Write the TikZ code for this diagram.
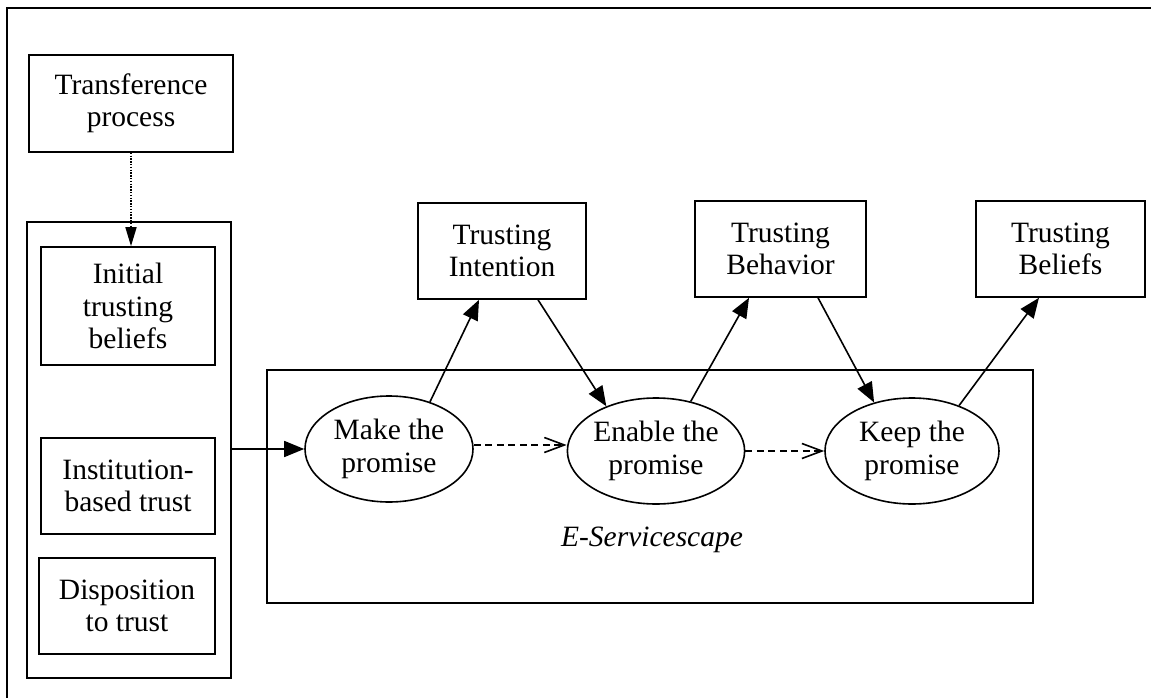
\documentclass[tikz,border=0pt]{standalone}
\usepackage{fontspec}
\setmainfont{Liberation Serif}
\usetikzlibrary{arrows.meta,shapes.geometric}
\begin{document}
\begin{tikzpicture}[x=1pt,y=-1pt,
  txt/.style={font=\fontsize{29.5}{32.5}\selectfont, align=center, inner sep=0pt},
  box/.style={txt, draw, line width=1.6pt, rectangle},
  oval/.style={txt, draw, line width=1.6pt, ellipse, minimum height=106pt},
  solidarrow/.style={line width=1.6pt, -{Triangle[length=20pt,width=16pt]}},
  dasharrow/.style={line width=1.6pt, dash pattern=on 7pt off 4.5pt, -{Straight Barb[length=20pt,width=15pt,line width=1.6pt]}},
  dotarrow/.style={line width=1.6pt, dash pattern=on 1.3pt off 1.5pt, -{Triangle[length=19pt,width=11pt]}}
]
\useasboundingbox (0,0) rectangle (1151,698);
\fill[white] (0,0) rectangle (1151,698);
\draw[line width=1.8pt] (1151,8) -- (7,8) -- (7,698);

\node[box, minimum width=204pt, minimum height=97pt] (trans) at (131,103.5) {Transference\\process};
\node[draw, line width=2.6pt, minimum width=204pt, minimum height=456pt, inner sep=0pt] (group) at (129,450) {};
\node[box, minimum width=174pt, minimum height=118pt] (init) at (128,306) {Initial\\trusting\\beliefs};
\node[box, minimum width=174pt, minimum height=96pt] (inst) at (128,486) {Institution-\\based trust};
\node[box, minimum width=176pt, minimum height=96pt] (disp) at (127,606) {Disposition\\to trust};

\node[draw, line width=1.6pt, minimum width=766pt, minimum height=233pt, inner sep=0pt] (escape) at (650,486.5) {};
\node[txt] (esclabel) at (652,540) {\textit{E-Servicescape}};

\node[box, minimum width=168pt, minimum height=96pt] (intent) at (502,251) {Trusting\\Intention};
\node[box, minimum width=171pt, minimum height=96pt] (behav) at (780.5,249) {Trusting\\Behavior};
\node[box, minimum width=169pt, minimum height=96pt] (beliefs) at (1060.5,249) {Trusting\\Beliefs};

\node[oval, minimum width=168pt] (make) at (389,449) {Make the\\promise};
\node[oval, minimum width=172pt] (enable) at (656,451) {Enable the\\promise};
\node[oval, minimum width=174pt] (keep) at (912,451) {Keep the\\promise};

\draw[dotarrow] (trans.south) -- (trans.south |- init.north);
\draw[solidarrow] (group.east |- make.west) -- (make.west);
\draw[dasharrow] ([yshift=4pt]make.east) -- ([yshift=4pt]make.east -| enable.west);
\draw[dasharrow] (enable.east) -- (enable.east -| keep.west);

\draw[solidarrow] (make.49) -- ([xshift=-23pt]intent.south);
\draw[solidarrow] ([xshift=36pt]intent.south) -- (enable.138);
\draw[solidarrow] (enable.55) -- ([xshift=-31.5pt]behav.south);
\draw[solidarrow] ([xshift=37.5pt]behav.south) -- (keep.128);
\draw[solidarrow] (keep.44) -- ([xshift=-21.5pt]beliefs.south);
\end{tikzpicture}
\end{document}
